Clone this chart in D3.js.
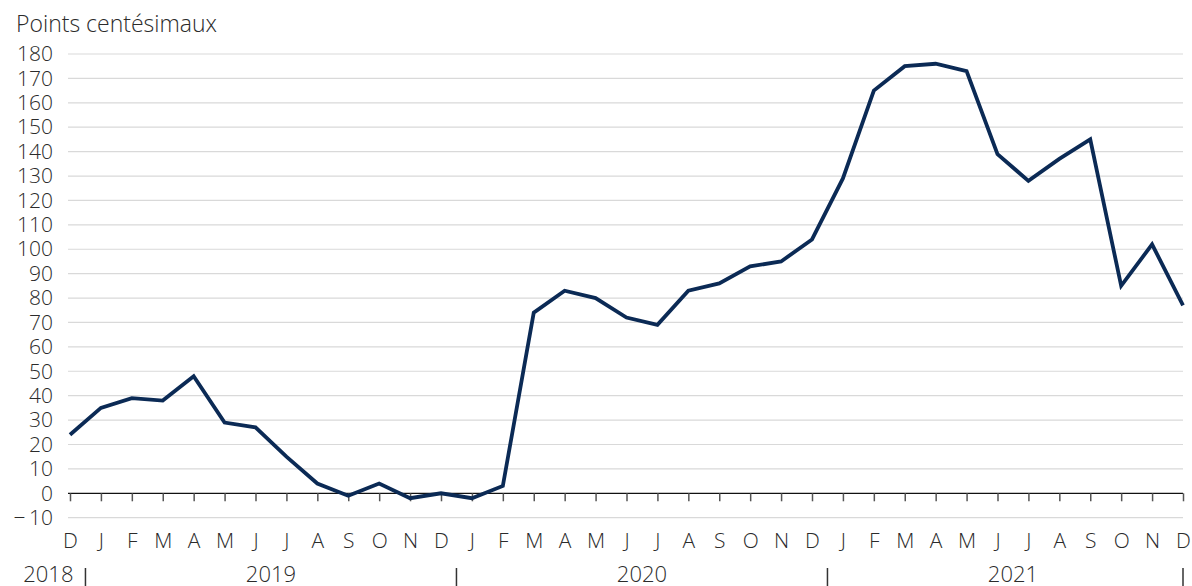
<!DOCTYPE html>
<html>
<head>
<meta charset="utf-8">
<script src="https://cdn.jsdelivr.net/npm/d3@7"></script>
<style>
  body { margin: 0; background: #fff; }
  svg { display: block; font-family: "Open Sans", sans-serif; font-weight: 300; }
</style>
</head>
<body>
<svg width="1192" height="586"></svg>
<script>
// Monthly series, Dec 2018 .. Dec 2021
const months = ["D", "J", "F", "M", "A", "M", "J", "J", "A", "S", "O", "N",
                "D", "J", "F", "M", "A", "M", "J", "J", "A", "S", "O", "N",
                "D", "J", "F", "M", "A", "M", "J", "J", "A", "S", "O", "N", "D"];
const values = [24, 35, 39, 38, 48, 29, 27, 15, 4, -1, 4, -2,
                0, -2, 3, 74, 83, 80, 72, 69, 83, 86, 93, 95,
                104, 129, 165, 175, 176, 173, 139, 128, 137, 145, 85, 102, 77];
const years = ["2018", "2019", "2020", "2021"];
const yTicks = d3.range(-10, 181, 10);

const svg = d3.select("svg");
const textColor = "#2b2b2b";
const fontSize = 21;

const x = d3.scaleLinear().domain([0, months.length - 1]).range([70, 1183]);
const y = d3.scaleLinear().domain([-10, 180]).range([517.7, 54]);

// Gridlines
svg.append("g")
    .selectAll("line")
    .data(yTicks.filter(d => d !== 0))
    .enter().append("line")
    .attr("x1", 68)
    .attr("x2", 1183)
    .attr("y1", d => y(d))
    .attr("y2", d => y(d))
    .attr("stroke", "#d9d9d9")
    .attr("stroke-width", 1.2);

// Y axis labels
const yAxis = svg.append("g")
    .attr("transform", "translate(53,0)")
    .call(d3.axisLeft(y).tickValues(yTicks).tickSize(0).tickPadding(0)
        .tickFormat(d => d < 0 ? "\u2212\u2009" + Math.abs(d) : d));
yAxis.select(".domain").remove();
yAxis.selectAll("text")
    .attr("fill", textColor)
    .attr("font-size", fontSize)
    .attr("font-family", "Open Sans, sans-serif");

// X axis (zero line with month ticks)
const xAxis = svg.append("g")
    .attr("transform", `translate(0,${y(0)})`)
    .call(d3.axisBottom(x)
        .tickValues(d3.range(months.length))
        .tickSize(8)
        .tickPadding(33)
        .tickFormat(i => months[i]));
xAxis.select(".domain")
    .attr("d", `M68,0H1183`)
    .attr("stroke", "#111")
    .attr("stroke-width", 1.3);
xAxis.selectAll(".tick line")
    .attr("stroke", "#555")
    .attr("stroke-width", 1.5);
xAxis.selectAll("text")
    .attr("fill", textColor)
    .attr("font-size", fontSize)
    .attr("font-family", "Open Sans, sans-serif")
    .attr("dy", "0.66em");

// Year separators and labels (break between Dec and Jan)
const yearStart = [0, 1, 13, 25];
const sepX = [x(0.5), x(12.5), x(24.5), x(36)];
svg.append("g")
    .selectAll("line")
    .data(sepX)
    .enter().append("line")
    .attr("x1", d => d)
    .attr("x2", d => d)
    .attr("y1", 568)
    .attr("y2", 586)
    .attr("stroke", "#333")
    .attr("stroke-width", 1.5);

svg.append("g")
    .selectAll("text")
    .data(years)
    .enter().append("text")
    .attr("x", (d, i) => i === 0 ? sepX[0] - 12 : (x(yearStart[i] - 0.5) + x(yearStart[i] + 11.5)) / 2)
    .attr("y", 582)
    .attr("text-anchor", (d, i) => i === 0 ? "end" : "middle")
    .attr("fill", textColor)
    .attr("font-size", 22)
    .text(d => d);

// Line
const line = d3.line()
    .x((d, i) => x(i))
    .y(d => y(d));

svg.append("path")
    .datum(values)
    .attr("d", line)
    .attr("fill", "none")
    .attr("stroke", "#0b2a55")
    .attr("stroke-width", 3.8)
    .attr("stroke-linejoin", "miter");

// Unit label
svg.append("text")
    .attr("x", 16)
    .attr("y", 32)
    .attr("fill", textColor)
    .attr("font-size", 23)
    .text("Points centésimaux");
</script>
</body>
</html>
